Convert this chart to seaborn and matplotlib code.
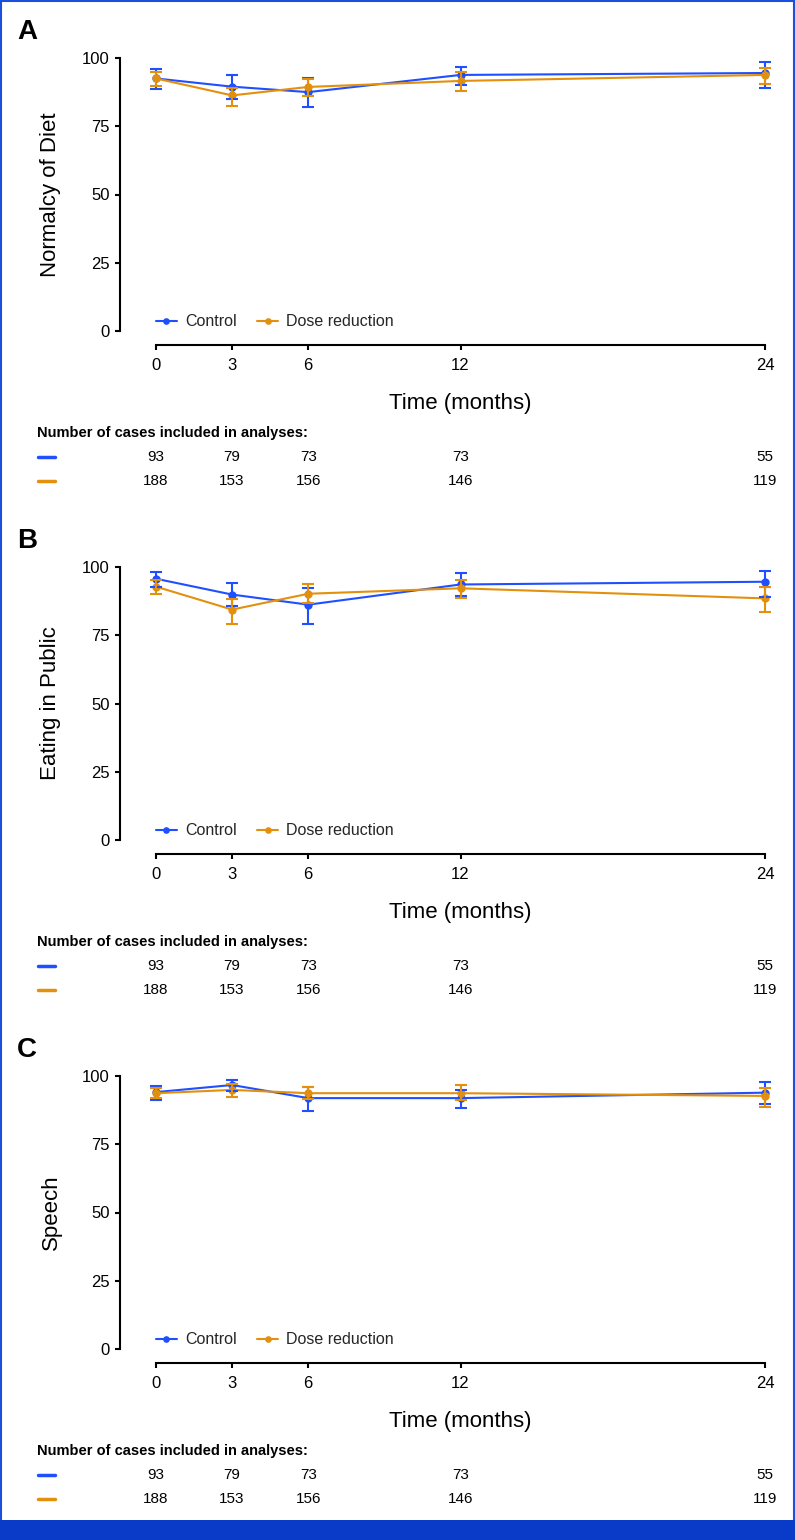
import numpy as np
import pandas as pd
import matplotlib
matplotlib.use("Agg")
import matplotlib.pyplot as plt
from matplotlib.patches import Rectangle
from matplotlib.lines import Line2D
import seaborn as sns

# Time points and number of cases
months = [0, 3, 6, 12, 24]
n_control = [93, 79, 73, 73, 55]
n_dose = [188, 153, 156, 146, 119]

# Panel A - Normalcy of Diet (mean, lower, upper)
a_ctrl = [92.5, 89.5, 87.5, 93.8, 94.5]
a_ctrl_lo = [88.5, 85.0, 82.0, 90.0, 89.0]
a_ctrl_hi = [96.0, 93.8, 92.5, 96.7, 98.5]
a_dose = [92.5, 86.3, 89.4, 91.6, 93.8]
a_dose_lo = [89.6, 82.4, 86.2, 87.9, 90.5]
a_dose_hi = [95.0, 89.0, 92.4, 94.8, 96.3]

# Panel B - Eating in Public
b_ctrl = [95.7, 89.9, 86.2, 93.6, 94.6]
b_ctrl_lo = [92.8, 85.6, 79.3, 89.5, 89.1]
b_ctrl_hi = [98.2, 94.2, 92.4, 97.7, 98.6]
b_dose = [92.8, 84.4, 90.2, 92.2, 88.5]
b_dose_lo = [90.2, 79.3, 86.8, 88.8, 83.6]
b_dose_hi = [95.3, 88.4, 93.6, 95.2, 92.8]

# Panel C - Speech
c_ctrl = [94.1, 96.7, 91.9, 91.9, 93.9]
c_ctrl_lo = [91.2, 94.5, 87.0, 88.2, 89.8]
c_ctrl_hi = [96.3, 98.5, 96.0, 95.0, 97.9]
c_dose = [93.7, 94.9, 93.7, 93.7, 92.7]
c_dose_lo = [92.0, 92.3, 91.5, 91.2, 88.7]
c_dose_hi = [95.5, 97.0, 96.0, 96.7, 95.5]

panels = [
    ("A", "Normalcy of Diet", a_ctrl, a_ctrl_lo, a_ctrl_hi, a_dose, a_dose_lo, a_dose_hi),
    ("B", "Eating in Public", b_ctrl, b_ctrl_lo, b_ctrl_hi, b_dose, b_dose_lo, b_dose_hi),
    ("C", "Speech", c_ctrl, c_ctrl_lo, c_ctrl_hi, c_dose, c_dose_lo, c_dose_hi),
]

groups = ["Control", "Dose reduction"]
blue = "#1f4fff"
orange = "#e3900d"
palette = {"Control": blue, "Dose reduction": orange}

sns.set_theme(style="white")
plt.rcParams["font.family"] = ["Liberation Sans", "DejaVu Sans"]

W, H = 795, 1540
fig = plt.figure(figsize=(W / 100, H / 100), dpi=100)

x0_px, x1_px = 156, 765
step = 509

for i, (letter, ylabel, cm, clo, chi, dm, dlo, dhi) in enumerate(panels):
    top = 58 + step * i
    bot = 331 + step * i
    ax = fig.add_axes([x0_px / W, 1 - bot / H, (x1_px - x0_px) / W, (bot - top) / H])

    df = pd.DataFrame({
        "month": months * 2,
        "score": cm + dm,
        "group": ["Control"] * len(months) + ["Dose reduction"] * len(months),
    })
    sns.lineplot(data=df, x="month", y="score", hue="group", hue_order=groups,
                 palette=palette, marker="o", markersize=6, markeredgewidth=0,
                 linewidth=1.5, errorbar=None, ax=ax, clip_on=False)

    for mean, lo, hi, col, z in [(cm, clo, chi, blue, 2.5), (dm, dlo, dhi, orange, 3.5)]:
        mean = np.array(mean)
        yerr = [mean - np.array(lo), np.array(hi) - mean]
        ax.errorbar(months, mean, yerr=yerr, fmt="none", ecolor=col, elinewidth=1.5,
                    capsize=4, capthick=1.5, zorder=z, clip_on=False)

    ax.set_xlim(0, 24)
    ax.set_ylim(0, 100)
    ax.set_xticks(months)
    ax.set_yticks([0, 25, 50, 75, 100])
    ax.tick_params(axis="both", labelsize=12, length=3.5, width=1.5, color="black",
                   labelcolor="black", direction="out", left=True, bottom=True)
    ax.tick_params(axis="x", pad=6)
    ax.tick_params(axis="y", pad=4)
    for s in ["left", "bottom"]:
        ax.spines[s].set_linewidth(1.5)
        ax.spines[s].set_color("black")
    sns.despine(ax=ax, offset={"left": 26, "bottom": 10}, trim=True)

    ax.set_xlabel("Time (months)", fontsize=16, va="center", color="black")
    ax.xaxis.set_label_coords(0.5, (bot - (404 + step * i)) / (bot - top))
    ax.set_ylabel(ylabel, fontsize=16, va="center", color="black")
    ax.yaxis.set_label_coords((51 - x0_px) / (x1_px - x0_px), 0.5)

    handles, labels = ax.get_legend_handles_labels()
    ax.legend(handles, labels, loc="center left", bbox_to_anchor=(0, 9 / 273),
              ncol=2, frameon=False, fontsize=11.5, borderaxespad=0, borderpad=0,
              handlelength=1.3, handletextpad=0.5, columnspacing=1.3, markerscale=0.8)

    # panel letter
    fig.text(27 / W, 1 - (32 + step * i) / H, letter, fontsize=20, fontweight="bold",
             ha="center", va="center", color="black")

    # number at risk table
    fig.text(37 / W, 1 - (433 + step * i) / H, "Number of cases included in analyses:",
             fontsize=10.5, fontweight="bold", ha="left", va="center", color="black")
    for row_px, counts, col in [(457, n_control, blue), (481, n_dose, orange)]:
        yf = 1 - (row_px + step * i) / H
        fig.add_artist(Line2D([38 / W, 55 / W], [yf, yf], transform=fig.transFigure,
                              color=col, linewidth=2.5))
        for m, n in zip(months, counts):
            ax.text(m, (bot - (row_px + step * i)) / (bot - top), str(n),
                    transform=ax.get_xaxis_transform(), ha="center", va="center",
                    fontsize=11, color="black")

# frame and bottom bar
fig.add_artist(Rectangle((0.5 / W, 0), 1 - 1.5 / W, 1 - 1 / H, transform=fig.transFigure,
                         fill=False, edgecolor="#1a4fe0", linewidth=1.5))
fig.add_artist(Rectangle((0, 0), 1, 20 / H, transform=fig.transFigure,
                         facecolor="#0a3bc8", edgecolor="none"))

fig.savefig("out.png", dpi=100)
